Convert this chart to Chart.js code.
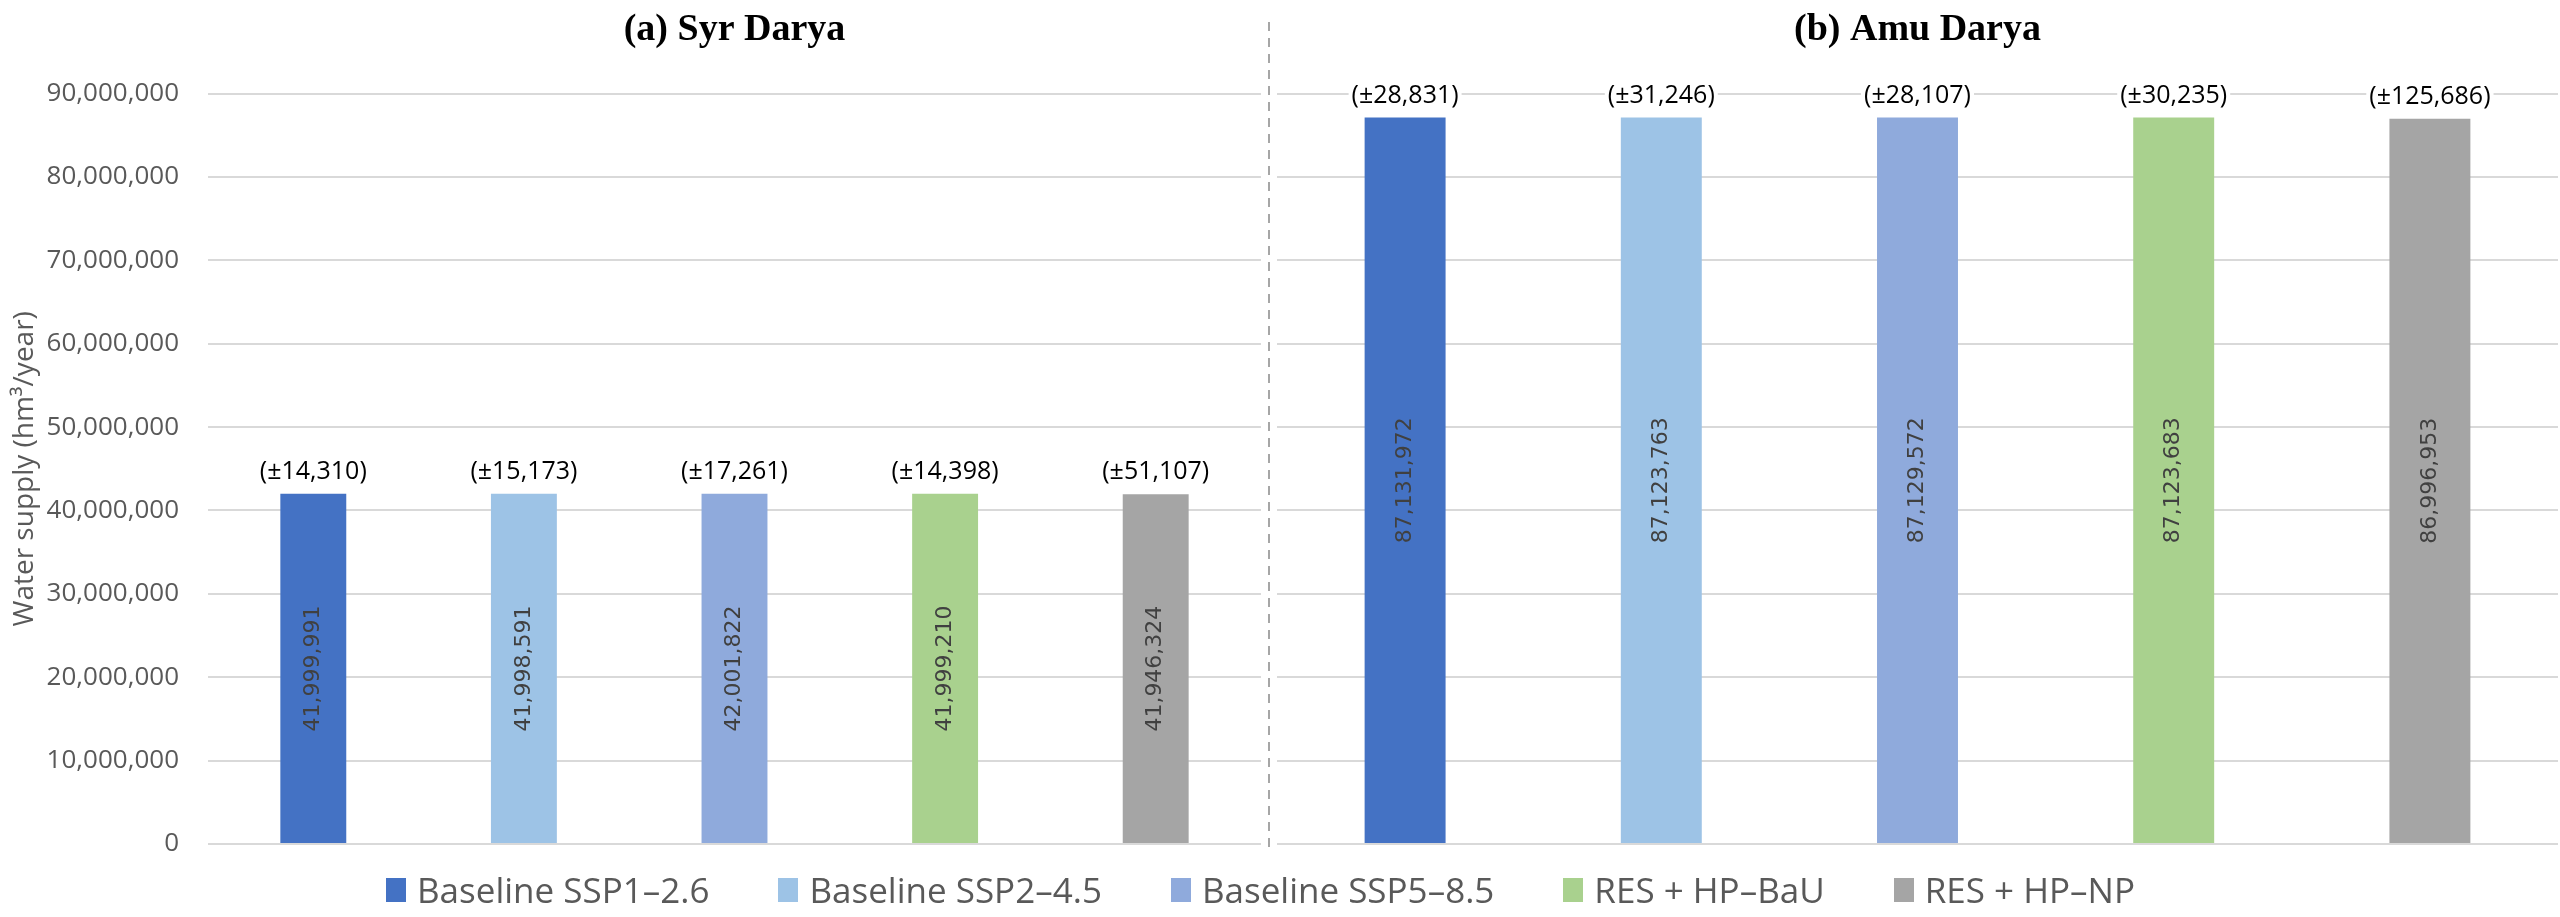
<!DOCTYPE html>
<html><head><meta charset="utf-8">
<script src="https://cdn.jsdelivr.net/npm/chart.js@4.4.1/dist/chart.umd.min.js"></script>
<style>
html,body{margin:0;padding:0;background:#fff;width:2560px;height:917px;overflow:hidden;}
canvas{position:absolute;top:0;}
#cA{left:0;}
#cB{left:1262px;}
#legend{position:absolute;left:386px;top:867px;display:flex;align-items:center;font-family:'Open Sans';font-size:35px;line-height:46px;color:#595959;white-space:nowrap;}
.it{display:flex;align-items:center;margin-right:69px;}
.it:last-child{margin-right:0;}
.mk{display:inline-block;width:20px;height:24px;margin-right:11px;}
</style></head><body>
<canvas id="cA" width="1265" height="917"></canvas>
<canvas id="cB" width="1298" height="917"></canvas>
<div id="legend"></div>
<script>
const scenarios = ['Baseline SSP1–2.6', 'Baseline SSP2–4.5', 'Baseline SSP5–8.5', 'RES + HP–BaU', 'RES + HP–NP'];
const colors = ['#4472C4', '#9DC3E6', '#8FAADC', '#A9D18E', '#A5A5A5'];
const syrValues = [41999991, 41998591, 42001822, 41999210, 41946324];
const syrErrors = [14310, 15173, 17261, 14398, 51107];
const amuValues = [87131972, 87123763, 87129572, 87123683, 86996953];
const amuErrors = [28831, 31246, 28107, 30235, 125686];
const yTicks = [0, 10000000, 20000000, 30000000, 40000000, 50000000, 60000000, 70000000, 80000000, 90000000];
const panelTitles = ['(a) Syr Darya', '(b) Amu Darya'];
const basins = ['Syr Darya', 'Amu Darya'];
const yAxisTitle = 'Water supply (hm³/year)';

const fmt = v => Number(v).toLocaleString('en-US');

const barLabels = {
  id: 'barLabels',
  afterDatasetsDraw(chart) {
    const ctx = chart.ctx;
    chart.data.datasets.forEach((ds, i) => {
      const meta = chart.getDatasetMeta(i);
      meta.data.forEach((bar, j) => {
        // value label, rotated, centred in bar
        ctx.save();
        ctx.translate(bar.x, (bar.y + bar.base) / 2);
        ctx.rotate(-Math.PI / 2);
        ctx.font = '22px "DejaVu Sans"';
        ctx.fillStyle = '#404040';
        ctx.textAlign = 'center';
        ctx.textBaseline = 'middle';
        ctx.fillText(fmt(ds.data[j]), 0, 0);
        ctx.restore();
        // error label above bar
        const t = '(±' + fmt(ds.errors[j]) + ')';
        ctx.save();
        ctx.font = '25px "Open Sans"';
        const w = ctx.measureText(t).width;
        const cy = bar.y - 22;
        ctx.fillStyle = '#ffffff';
        ctx.fillRect(bar.x - w / 2 - 3, cy - 15, w + 6, 30);
        ctx.fillStyle = '#000000';
        ctx.textAlign = 'center';
        ctx.textBaseline = 'middle';
        ctx.fillText(t, bar.x, cy);
        ctx.restore();
      });
    });
  }
};

const divider = {
  id: 'divider',
  afterDraw(chart) {
    const ctx = chart.ctx;
    const x = chart.chartArea.left - 8;
    ctx.save();
    ctx.strokeStyle = '#a6a6a6';
    ctx.lineWidth = 2;
    ctx.setLineDash([9, 7]);
    ctx.beginPath();
    ctx.moveTo(x, 22);
    ctx.lineTo(x, 850);
    ctx.stroke();
    ctx.restore();
  }
};

function makeChart(id, isA, values, errors) {
  const datasets = scenarios.map((s, i) => ({
    label: s,
    data: [values[i]],
    errors: [errors[i]],
    backgroundColor: colors[i],
    borderWidth: 0,
    barPercentage: isA ? 0.313 : 0.316,
    categoryPercentage: 1
  }));
  return new Chart(document.getElementById(id), {
    type: 'bar',
    data: { labels: [isA ? basins[0] : basins[1]], datasets },
    options: {
      responsive: false,
      animation: false,
      layout: { padding: { left: isA ? 0 : 15, right: isA ? 4 : 2, top: 0, bottom: 73 } },
      plugins: {
        legend: { display: false },
        tooltip: { enabled: false },
        title: {
          display: true,
          text: isA ? panelTitles[0] : panelTitles[1],
          fullSize: false,
          color: '#000000',
          font: { family: 'Liberation Serif', size: 38, weight: 'bold' },
          padding: { top: 7, bottom: 41 }
        }
      },
      scales: {
        x: { display: false, grid: { display: false } },
        y: {
          min: 0,
          max: yTicks[yTicks.length - 1],
          afterBuildTicks: s => { s.ticks = yTicks.map(v => ({ value: v })); },
          afterFit: s => { s.width = isA ? 208 : 0; },
          grid: { color: '#d9d9d9', lineWidth: 2, drawTicks: false },
          border: { display: false },
          ticks: {
            display: isA,
            padding: 29,
            color: '#595959',
            font: { family: 'Open Sans', size: 26 },
            callback: v => fmt(v)
          },
          title: {
            display: isA,
            text: yAxisTitle,
            color: '#595959',
            font: { family: 'Open Sans', size: 28 },
            padding: { top: 8, bottom: 0 }
          }
        }
      }
    },
    plugins: isA ? [barLabels] : [barLabels, divider]
  });
}

makeChart('cA', true, syrValues, syrErrors);
makeChart('cB', false, amuValues, amuErrors);

const legend = document.getElementById('legend');
scenarios.forEach((s, i) => {
  const it = document.createElement('div');
  it.className = 'it';
  const mk = document.createElement('span');
  mk.className = 'mk';
  mk.style.background = colors[i];
  const tx = document.createElement('span');
  tx.textContent = s;
  it.appendChild(mk);
  it.appendChild(tx);
  legend.appendChild(it);
});
</script>
</body></html>
